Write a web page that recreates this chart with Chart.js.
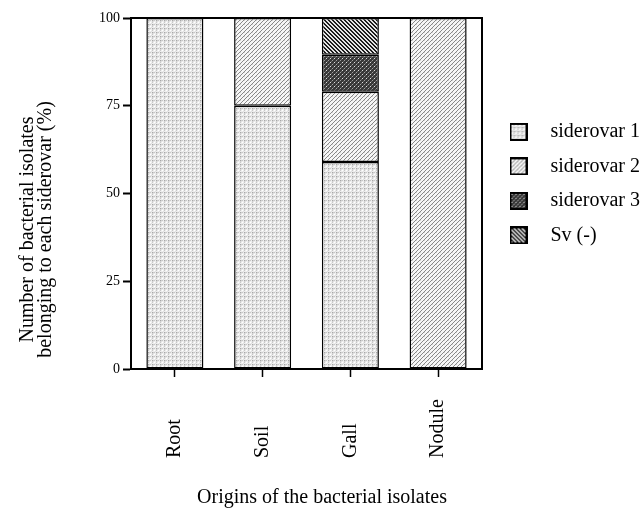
<!DOCTYPE html>
<html><head><meta charset="utf-8">
<script src="https://cdn.jsdelivr.net/npm/chart.js@4.4.1/dist/chart.umd.min.js"></script>
<style>html,body{margin:0;padding:0;background:#fff;}</style>
</head><body><canvas id="c" width="644" height="510"></canvas>
<script>
const categories = ['Root', 'Soil', 'Gall', 'Nodule'];
const seriesNames = ['siderovar 1', 'siderovar 2', 'siderovar 3', 'Sv (-)'];
const siderovar1 = [100, 75, 59, null];
const siderovar2 = [null, 25, 20, 100];
const siderovar3 = [null, null, 10.5, null];
const svNeg = [null, null, 10.5, null];
const yTitle = ['Number of bacterial isolates', 'belonging to each siderovar (%)'];
const xTitle = 'Origins of the bacterial isolates';

const FONT = "'Liberation Serif', 'Times New Roman', serif";

function tile(w, h, bg, dots) {
  const c = document.createElement('canvas'); c.width = w; c.height = h;
  const g = c.getContext('2d'); g.fillStyle = bg; g.fillRect(0, 0, w, h);
  dots.forEach(([x, y, col]) => { g.fillStyle = col; g.fillRect(x, y, 1, 1); });
  return c;
}
const tiles = [
  tile(4, 4, '#eeeeee', [[0,0,'#a8a8a8'],[2,0,'#c8c8c8'],[0,2,'#c8c8c8'],[2,2,'#ffffff'],[1,1,'#e0e0e0'],[3,3,'#e0e0e0'],[1,0,'#d0d0d0'],[0,1,'#d0d0d0']]),
  tile(4, 4, '#f6f6f6', [[3,0,'#888888'],[2,1,'#888888'],[1,2,'#888888'],[0,3,'#888888'],[0,0,'#d4d4d4']]),
  tile(4, 4, '#383838', [[0,0,'#a0a0a0'],[2,2,'#dddddd'],[1,3,'#6a6a6a'],[3,1,'#6a6a6a']]),
  tile(4, 4, '#e4e4e4', [[0,0,'#1c1c1c'],[1,0,'#1c1c1c'],[1,1,'#1c1c1c'],[2,1,'#1c1c1c'],[2,2,'#1c1c1c'],[3,2,'#1c1c1c'],[3,3,'#1c1c1c'],[0,3,'#1c1c1c']])
];
const mainCtx = document.getElementById('c').getContext('2d');
const patterns = tiles.map(t => mainCtx.createPattern(t, 'repeat'));

function legendImage(i) {
  const c = document.createElement('canvas'); c.width = 18; c.height = 18;
  const g = c.getContext('2d');
  g.fillStyle = g.createPattern(tiles[i], 'repeat'); g.fillRect(0, 0, 18, 18);
  g.strokeStyle = '#000'; g.lineWidth = 2; g.strokeRect(1, 1, 16, 16);
  return c;
}
const legendImages = [0, 1, 2, 3].map(legendImage);

const seriesValues = [siderovar1, siderovar2, siderovar3, svNeg];
const datasets = seriesValues.map((vals, i) => ({
  label: seriesNames[i],
  data: vals,
  backgroundColor: patterns[i],
  borderColor: '#000',
  borderWidth: 1.5,
  borderSkipped: false,
  barPercentage: 0.65,
  categoryPercentage: 1.0
}));

const framePlugin = {
  id: 'frame',
  afterDraw(chart) {
    const { ctx, chartArea: a } = chart;
    ctx.save();
    ctx.strokeStyle = '#000'; ctx.lineWidth = 2;
    ctx.beginPath();
    ctx.moveTo(a.left, a.top); ctx.lineTo(a.right, a.top); ctx.lineTo(a.right, a.bottom);
    ctx.stroke();
    ctx.restore();
  }
};
const xLabelPlugin = {
  id: 'xlabels',
  afterDraw(chart) {
    const { ctx, chartArea: a } = chart;
    const sx = chart.scales.x;
    ctx.save();
    ctx.fillStyle = '#000';
    ctx.font = '20px ' + FONT;
    ctx.textAlign = 'left'; ctx.textBaseline = 'middle';
    categories.forEach((lab, i) => {
      ctx.save();
      ctx.translate(sx.getPixelForTick(i), a.bottom + 89);
      ctx.rotate(-Math.PI / 2);
      ctx.fillText(lab, 0, 0);
      ctx.restore();
    });
    ctx.restore();
  }
};
const layoutTweaks = {
  id: 'layoutTweaks',
  beforeLayout(chart) {
    const lg = chart.legend;
    if (lg && !lg._patched) {
      const orig = lg.fit;
      lg.fit = function () { orig.call(this); this.width = 162; };
      lg._patched = true;
    }
  },
  afterLayout(chart) {
    const sy = chart.scales.y;
    if (sy && !sy._titlePatched) {
      const origTitle = sy.drawTitle;
      sy.drawTitle = function () {
        this.ctx.save();
        this.ctx.translate(0, 36);
        origTitle.call(this);
        this.ctx.restore();
      };
      sy._titlePatched = true;
    }
  }
};

new Chart(mainCtx, {
  type: 'bar',
  data: { labels: categories, datasets },
  options: {
    responsive: false,
    animation: false,
    devicePixelRatio: 1,
    layout: { padding: { top: 18, left: 0, right: 0, bottom: 0 } },
    scales: {
      x: {
        stacked: true,
        grid: { display: true, drawOnChartArea: false, drawTicks: true, tickLength: 8, tickWidth: 1.5, tickColor: '#000', offset: false },
        border: { display: true, color: '#000', width: 2 },
        ticks: { display: false }
      },
      y: {
        stacked: true,
        min: 0, max: 100,
        ticks: { stepSize: 25, color: '#000', font: { family: FONT, size: 14 }, padding: 3 },
        grid: { display: true, drawOnChartArea: false, drawTicks: true, tickLength: 8, tickWidth: 2, tickColor: '#000' },
        border: { display: true, color: '#000', width: 2 },
        title: { display: true, text: yTitle, color: '#000', font: { family: FONT, size: 20, lineHeight: 0.9 }, padding: { top: 19, bottom: 41 } }
      }
    },
    plugins: {
      tooltip: { enabled: false },
      title: {
        display: true, position: 'bottom', text: xTitle, color: '#000',
        font: { family: FONT, size: 20, weight: 'normal', lineHeight: 1.2 },
        padding: { top: 109, bottom: 0 }
      },
      legend: {
        position: 'right', align: 'start',
        title: { display: true, text: '', padding: { top: 75, bottom: 0 } },
        labels: {
          usePointStyle: true, pointStyleWidth: 44, boxHeight: 18, padding: 14.5,
          color: '#000', font: { family: FONT, size: 20 },
          generateLabels(chart) {
            return chart.data.datasets.map((ds, i) => ({
              text: ds.label, pointStyle: legendImages[i], datasetIndex: i,
              fillStyle: 'transparent', strokeStyle: 'transparent', lineWidth: 0, hidden: false, fontColor: '#000'
            }));
          }
        }
      }
    }
  },
  plugins: [framePlugin, xLabelPlugin, layoutTweaks]
});
</script></body></html>
